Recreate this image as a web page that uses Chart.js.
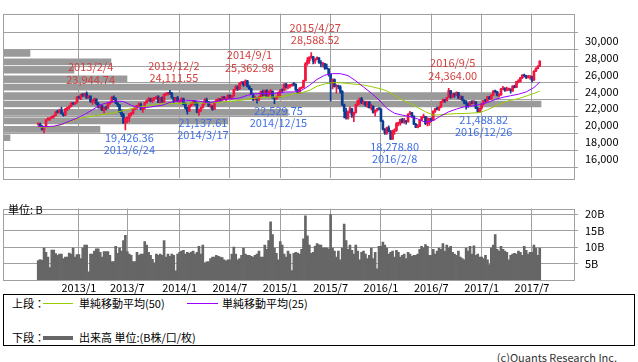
<!DOCTYPE html>
<html>
<head>
<meta charset="utf-8">
<script src="https://cdn.jsdelivr.net/npm/chart.js@4.4.0/dist/chart.umd.min.js"></script>
<style>
body { margin:0; background:#fff; width:638px; height:362px; position:relative; overflow:hidden;
       font-family:"Noto Sans CJK JP", sans-serif; font-size:11px; color:#000; }
canvas { position:absolute; left:0; }
#priceChart { top:0; }
#volChart { top:195px; }
.txt { position:absolute; white-space:nowrap; line-height:13px; }
#legendBox { position:absolute; left:3px; top:294px; width:632px; height:52px; border:1px solid #000; box-sizing:border-box; }
.swatch { position:absolute; }
</style>
</head>
<body>
<canvas id="priceChart" width="638" height="192"></canvas>
<canvas id="volChart" width="638" height="99"></canvas>
<div class="txt" style="left:8px;top:203px;">単位: B</div>
<div id="legendBox"></div>
<div class="txt" style="left:12px;top:297px;">上段：</div>
<div class="swatch" style="left:43px;top:303px;width:30px;height:1px;background:#99cc00;"></div>
<div class="txt" style="left:79px;top:297px;">単純移動平均(50)</div>
<div class="swatch" style="left:187px;top:303px;width:31px;height:1px;background:#9900ff;"></div>
<div class="txt" style="left:222px;top:297px;">単純移動平均(25)</div>
<div class="txt" style="left:12px;top:331px;">下段：</div>
<div class="swatch" style="left:43px;top:336px;width:30px;height:4px;background:#666;"></div>
<div class="txt" style="left:79px;top:331px;">出来高 単位:(B株/口/枚)</div>
<div class="txt" style="right:21px;top:351px;color:#333;">(c)Quants Research Inc.</div>
<script>
// weekly bars, index 0 = week of 2012/8/13, last = week of 2017/7/31
const openP = [20080,20120,19870,19480,19800,20640,20720,20850,21010,21150,21560,21540,21780,21380,21180,21920,22040,22210,22600,22510,
22680,23340,23260,23610,23590,23730,23220,23440,22790,22880,23090,22520,22120,22290,21720,22090,22010,22550,22700,23320,
23080,22610,22390,21570,21220,20260,20810,20850,21280,21370,21970,22200,22280,22500,21860,22040,22630,22920,23110,22860,
23140,23220,23350,22690,23250,22740,23670,23700,23880,23740,23240,22810,23250,22810,22840,23130,22440,22030,21640,22300,
22570,22830,22650,21540,21850,22070,22500,23000,22750,22220,22260,21870,22720,22960,23080,22950,23320,23190,23220,23540,
23230,23460,24220,24530,24330,24950,25110,24740,25240,24590,24300,23670,23060,23080,23020,23300,24000,23550,24080,23440,
23990,24000,23240,23120,23350,23860,24130,24100,24850,24500,24680,24680,24830,24820,24160,23820,24370,24480,25280,27280,
27650,28060,28130,27570,27820,27990,27420,27260,27280,26750,26660,26060,24900,25410,24550,24630,24550,23990,22400,21610,
20830,21500,21920,21180,21510,22450,22860,23150,22630,22720,22390,22750,22060,22230,21460,21750,21920,21900,20450,19520,
19080,19680,19280,18320,19280,19360,20180,20200,20670,20340,20500,20370,21320,21470,21060,20100,19710,19850,20570,20950,
21040,20170,20250,20790,20560,21660,21960,21890,22140,22760,22930,22900,23260,24090,23330,23680,23580,23850,23230,23370,
22950,22640,22530,22340,22720,22560,22750,22010,21570,22000,22500,22930,22880,23350,23120,23570,24030,23960,23550,23560,
24300,24350,24110,24260,24260,24040,24610,24470,25150,25170,25630,25920,25830,25620,25670,25760,25340,26390,26700,26980];
const highP = [20260,20250,19960,19850,20660,20900,20900,21060,21180,21620,21740,21900,22150,21450,22000,22150,22300,22680,22700,22700,
23370,23450,23650,23700,23780,23945,23500,23480,23030,23200,23120,22700,22400,22350,22150,22250,22600,22800,23390,23470,
23260,22700,22450,21800,21400,20900,21000,21400,21500,22000,22250,22300,22650,22600,22100,22700,23000,23300,23200,23200,
23300,23450,23500,23300,23350,23700,23800,23900,24112,23900,23300,23300,23400,23000,23250,23200,22600,22100,22350,22650,
22900,22900,22700,21900,22150,22550,23150,23200,22800,22500,22300,22750,23050,23200,23150,23400,23400,23300,23600,23600,
23500,24250,24700,24650,25000,25200,25150,25363,25300,24700,24350,23700,23400,23250,23450,24050,24150,24150,24200,24050,
24200,24050,23300,23400,23950,24200,24300,24900,24950,24800,24800,24900,25050,24900,24250,24450,24550,25350,27400,28000,
28100,28589,28150,27900,28100,28000,27650,27400,27300,27250,26700,26100,25500,25500,24800,24750,24700,24100,22500,22000,
21700,22150,22000,21550,22500,22950,23200,23300,22900,22800,22800,22800,22500,22300,21800,22000,22050,21950,20600,19600,
19750,19900,19350,19400,19550,20300,20350,20700,20800,20800,20550,21350,21620,21500,21100,20200,20050,20650,21000,21300,
21050,20900,20800,20850,21700,22000,22150,22200,22800,23100,23000,23300,24364,24100,23750,23800,23950,23900,23500,23450,
23000,22900,22600,22800,22900,22900,22800,22100,22050,22600,22950,23050,23400,23400,23600,24100,24150,24000,23700,24350,
24600,24450,24500,24350,24300,24700,24750,25200,25400,25650,26000,26050,25900,25900,25900,25800,26450,26800,27050,27650];
const lowP = [19960,19800,19400,19076,19780,20560,20550,20800,20850,21100,21400,21450,21300,21050,21150,21700,21900,22150,22400,22450,
22600,23100,23000,23380,23400,23150,23180,22700,22450,22600,22400,22000,21900,21700,21400,21800,21950,22450,22650,23000,
22550,22200,21500,21000,20200,19426,20300,20400,21100,21300,21800,21900,22200,21800,21500,21900,22600,22800,22750,22700,
22900,23100,22650,22600,22700,22700,23500,23550,23650,23200,22700,22800,22800,22600,22750,22400,21900,21300,21600,22200,
22400,22350,21450,21138,21600,22000,22450,22650,22200,22000,21750,21850,22650,22800,22800,22900,23000,22900,23100,23150,
23050,23400,24150,24100,24200,24850,24600,24700,24500,24200,23600,22900,22950,22600,22900,23250,23450,23500,23400,23400,
23600,23200,22530,23000,23300,23300,23900,24050,24400,24300,24400,24600,24650,24100,23750,23800,24300,24400,25250,27100,
27300,27900,27250,27300,27750,27300,26900,26900,26600,26650,25800,22836,24300,24500,23800,24300,23800,22300,20865,20700,
20700,21400,20900,20400,21400,22300,22450,22550,22400,22200,22100,22000,21800,21400,21100,21650,21800,20400,19400,18900,
18900,19200,18279,18300,18900,19250,19900,20000,20250,20200,20100,20350,21200,20900,20050,19700,19650,19800,20500,20850,
20050,19900,19950,20400,20550,21500,21800,21700,22100,22700,22700,22850,23250,23200,23250,23300,23500,23100,23000,22900,
22500,21900,22100,22300,22500,22500,21950,21500,21489,21900,22400,22700,22800,23000,23050,23500,23850,23450,23350,23550,
24200,24000,24050,24100,23800,24000,24400,24450,25000,25100,25500,25700,25500,25550,25450,25100,25300,26350,26650,26950];
const closeP = [20116,19880,19482,19802,20629,20734,20840,20999,21136,21551,21546,21769,21385,21159,21913,22030,22191,22605,22506,22667,
23331,23264,23601,23580,23721,23216,23444,22782,22880,23092,22533,22115,22300,21727,22089,22013,22547,22690,23321,23082,
22618,22392,21575,21225,20263,20803,20855,21277,21362,21968,22190,22271,22517,21863,22031,22621,22915,23117,22859,23139,
23218,23340,22698,23249,22744,23660,23696,23881,23743,23245,22813,23244,22817,22846,23133,22450,22035,21636,22299,22568,
22837,22660,21540,21846,22065,22510,23003,22760,22223,22261,21863,22713,22965,23081,22951,23319,23194,23221,23546,23233,
23454,24216,24532,24331,24954,25112,24742,25240,24595,24306,23678,23064,23088,23023,23302,23998,23550,24087,23437,23987,
24002,23249,23116,23349,23857,24136,24103,24850,24507,24679,24682,24833,24823,24164,23823,24375,24486,25275,27272,27653,
28061,28133,27577,27822,27993,27424,27260,27280,26760,26663,26064,24901,25415,24553,24636,24552,23991,22410,21612,20840,
21504,21920,21186,21506,22459,22867,23151,22640,22727,22397,22754,22068,22235,21464,21756,21919,21914,20453,19521,19080,
19683,19289,18320,19286,19364,20176,20199,20671,20346,20498,20370,21316,21467,21067,20109,19719,19852,20577,20947,21042,
20170,20259,20794,20564,21659,21964,21891,22146,22767,22937,22909,23266,24099,23335,23686,23584,23851,23233,23374,22954,
22643,22531,22344,22723,22564,22760,22020,21574,22001,22503,22937,22885,23360,23129,23575,24033,23965,23553,23568,24310,
24358,24111,24267,24262,24042,24615,24476,25156,25174,25639,25924,25830,25626,25670,25765,25341,26389,26706,26979,27563];
// weekly volume, billions of shares
const volumeB = [5.9,6.2,6.0,9.7,8.4,7.0,3.8,9.1,9.1,8.0,7.5,7.9,7.9,6.5,7.0,7.0,8.2,7.9,9.7,7.0,
7.7,7.7,6.5,9.7,10.6,10.6,2.5,7.9,7.9,8.8,9.5,9.5,8.4,7.0,8.6,8.6,8.6,7.5,5.6,5.6,
10.2,8.1,9.7,8.8,12.0,13.6,8.6,7.9,7.5,5.6,5.6,8.4,7.5,7.9,7.9,11.7,10.6,8.4,7.5,6.3,
5.2,7.9,7.5,7.9,7.5,12.0,7.0,7.9,7.2,7.9,7.5,2.8,7.9,8.4,8.8,9.0,7.9,8.4,8.1,8.5,
8.8,7.9,8.4,10.2,7.9,10.6,5.2,5.5,5.6,6.5,7.0,7.0,7.5,7.2,7.0,6.8,6.1,5.8,6.1,6.1,
7.9,10.0,7.9,6.1,6.5,7.5,9.7,7.9,7.5,7.5,7.2,7.0,7.5,7.9,8.8,7.0,7.0,10.6,9.3,12.0,
17.7,13.8,9.7,8.1,6.1,11.7,10.6,7.9,7.0,8.8,7.9,2.9,8.1,8.4,8.2,7.9,9.3,12.5,19.5,13.4,
10.6,8.1,8.4,10.2,11.1,10.7,10.6,9.7,9.8,9.7,9.5,19.9,9.7,8.8,7.0,8.8,6.1,9.7,17.0,12.0,
9.3,10.6,9.0,7.9,10.6,8.8,6.1,8.4,8.8,7.9,6.5,7.5,9.7,6.5,8.4,3.4,10.2,10.2,11.5,10.6,
9.7,7.9,8.4,8.8,7.0,9.0,8.4,7.0,7.5,7.9,6.5,8.4,7.9,7.2,7.5,7.5,7.9,9.3,10.2,9.7,
10.8,10.2,7.5,7.5,9.3,7.9,8.8,9.7,9.3,11.1,8.8,10.6,9.7,10.2,8.4,7.9,7.5,8.8,7.0,6.5,
6.1,9.7,8.8,10.2,7.9,10.4,7.5,7.9,7.0,7.0,6.5,7.5,6.1,4.7,9.7,10.6,13.8,9.3,8.8,10.2,
9.3,8.8,8.4,6.1,7.5,7.9,8.1,7.9,8.8,8.4,7.5,10.2,9.0,7.9,8.4,8.4,10.6,9.7,7.5,9.7];
// moving averages read every 4 weeks (last value = last week)
const maStep = 4;
const ma25 = [19820,19820,19870,20090,20450,20820,21270,21810,22400,22670,22850,22800,22350,22040,22080,22220,22350,22690,22850,22940,
22920,22800,22620,22800,23030,23120,23210,23530,23710,23750,23770,23800,23930,23930,24110,24700,25420,25920,26100,26100,
25870,25240,24520,23800,22980,21990,21400,21180,21000,20730,20320,20550,21090,21580,21900,22170,22260,22440,22670,23030,
23300,23480,23660,23930,24450,25100];
const ma50 = [19730,19760,19820,20050,20370,20730,20910,21040,21210,21360,21490,21720,21950,22130,22260,22400,22510,22530,22580,22600,
22620,22620,22620,22670,22760,22830,22920,23070,23190,23280,23320,23350,23460,23710,23840,24110,24610,24880,25030,25020,
24930,24840,24750,24560,24340,24070,23530,22980,22580,22080,21580,21180,21220,21310,21360,21380,21420,21490,21810,22260,
22670,22940,23140,23440,23750,24040];
// volume by price band (band centre, billions)
const profileBand = [18500,19500,20500,21500,22500,23500,24500,25500,26500,27500,28500];
const profileVol = [7,97,225,285,538,496,284,124,71,108,27];
const priceTicks = [16000,18000,20000,22000,24000,26000,28000,30000];
const volTicks = [5,10,15,20];
const monthWeek = [21,46,73,99,125,151,177,203,229,255];
const monthLabel = ['2013/1','2013/7','2014/1','2014/7','2015/1','2015/7','2016/1','2016/7','2017/1','2017/7'];
// high / low marks
const markWeek = [25,68,107,141,212,45,83,122,182,228];
const markValue = [23944.74,24111.55,25362.98,28588.52,24364.00,19426.36,21137.61,22529.75,18278.80,21488.82];
const markDate = ['2013/2/4','2013/12/2','2014/9/1','2015/4/27','2016/9/5','2013/6/24','2014/3/17','2014/12/15','2016/2/8','2016/12/26'];
const markHigh = [true,true,true,true,true,false,false,false,false,false];

const UP = '#f3143f';
const DOWN = '#0b3c94';
const GRID = '#a0a0a0';
const FONT = { family: '"Noto Sans CJK JP", sans-serif', size: 11 };
const X_MIN = -18.2, X_MAX = 276.7;

const weeks = closeP.map((_, i) => i);
const candleColor = weeks.map(i => closeP[i] >= openP[i] ? UP : DOWN);
const maPoints = arr => arr.map((v, k) => ({ x: Math.min(k * maStep, closeP.length - 1), y: v }));

const frame = {
    id: 'frame',
    afterDraw(chart) {
        const a = chart.chartArea;
        const ctx = chart.ctx;
        ctx.save();
        ctx.strokeStyle = GRID;
        ctx.lineWidth = 1;
        ctx.strokeRect(Math.round(a.left) + 0.5, Math.round(a.top) + 0.5, Math.round(a.right - a.left), Math.round(a.bottom - a.top));
        ctx.restore();
    }
};

const marks = {
    id: 'marks',
    afterDatasetsDraw(chart) {
        const ctx = chart.ctx;
        const x = chart.scales.x, y = chart.scales.y;
        ctx.save();
        ctx.font = '11px "Noto Sans CJK JP"';
        ctx.textAlign = 'center';
        ctx.textBaseline = 'middle';
        markWeek.forEach((w, k) => {
            const px = x.getPixelForValue(w) + 4;
            const py = y.getPixelForValue(markValue[k]);
            const valText = markValue[k].toLocaleString('en-US', { minimumFractionDigits: 2, maximumFractionDigits: 2 });
            if (markHigh[k]) {
                ctx.fillStyle = '#d2403f';
                ctx.fillText(markDate[k], px, py - 25);
                ctx.fillText(valText, px, py - 12.5);
            } else {
                ctx.fillStyle = '#3f6fe8';
                ctx.fillText(valText, px, py + 7.5);
                ctx.fillText(markDate[k], px, py + 19.5);
            }
        });
        ctx.restore();
    }
};

new Chart(document.getElementById('priceChart'), {
    type: 'bar',
    data: {
        datasets: [{
            type: 'line',
            label: '単純移動平均(25)',
            data: maPoints(ma25),
            borderColor: '#9900ff',
            borderWidth: 1,
            pointRadius: 0,
            xAxisID: 'x',
            order: 0
        }, {
            type: 'line',
            label: '単純移動平均(50)',
            data: maPoints(ma50),
            borderColor: '#99cc00',
            borderWidth: 1,
            pointRadius: 0,
            xAxisID: 'x',
            order: 0
        }, {
            label: 'body',
            data: weeks.map(i => ({ x: i, y: [openP[i], closeP[i]] })),
            backgroundColor: candleColor,
            barThickness: 2,
            minBarLength: 1,
            grouped: false,
            xAxisID: 'x',
            order: 1
        }, {
            label: 'wick',
            data: weeks.map(i => ({ x: i, y: [lowP[i], highP[i]] })),
            backgroundColor: candleColor,
            barThickness: 1,
            grouped: false,
            xAxisID: 'x',
            order: 2
        }, {
            label: 'profile',
            indexAxis: 'y',
            data: profileBand.map((b, k) => ({ x: profileVol[k], y: b })),
            backgroundColor: '#9a9a9a',
            barThickness: 6,
            grouped: false,
            xAxisID: 'xp',
            yAxisID: 'y',
            order: 5
        }]
    },
    options: {
        responsive: false,
        animation: false,
        events: [],
        layout: { padding: { left: 3, top: 1, right: 0, bottom: 1.5 } },
        plugins: { legend: { display: false }, tooltip: { enabled: false } },
        scales: {
            x: {
                type: 'linear',
                min: X_MIN,
                max: X_MAX,
                offset: false,
                afterBuildTicks: s => { s.ticks = monthWeek.map(v => ({ value: v })); },
                afterFit: s => { s.height = 0; },
                ticks: { display: false },
                grid: { color: c => c.tick && c.tick.value === 46 ? 'rgba(0,0,0,0)' : GRID, drawTicks: false, offset: false },
                border: { display: false }
            },
            xp: { type: 'linear', display: false, min: 0, max: 571, offset: false },
            y: {
                type: 'linear',
                position: 'right',
                min: 14900,
                max: 32000,
                afterBuildTicks: s => { s.ticks = priceTicks.map(v => ({ value: v })); },
                afterFit: s => { s.width = 64; },
                ticks: { color: '#000', font: FONT, padding: 7, callback: v => v.toLocaleString('en-US') },
                grid: { color: GRID, tickLength: 4 },
                border: { display: false }
            }
        }
    },
    plugins: [frame, marks]
});

new Chart(document.getElementById('volChart'), {
    type: 'bar',
    data: {
        datasets: [{
            label: '出来高',
            data: weeks.map(i => ({ x: i, y: volumeB[i] })),
            backgroundColor: '#666666',
            barThickness: 2,
            grouped: false
        }]
    },
    options: {
        responsive: false,
        animation: false,
        events: [],
        layout: { padding: { left: 3, top: 6, right: 0, bottom: 0 } },
        plugins: { legend: { display: false }, tooltip: { enabled: false } },
        scales: {
            x: {
                type: 'linear',
                min: X_MIN,
                max: X_MAX,
                offset: false,
                afterBuildTicks: s => { s.ticks = monthWeek.map(v => ({ value: v })); },
                afterFit: s => { s.height = 14; },
                ticks: { color: '#000', font: FONT, padding: 1, maxRotation: 0, autoSkip: false,
                         callback: v => monthLabel[monthWeek.indexOf(v)] },
                grid: { color: GRID, drawTicks: false, offset: false },
                border: { display: false }
            },
            y: {
                type: 'linear',
                position: 'right',
                min: 0,
                max: 21.7,
                afterBuildTicks: s => { s.ticks = volTicks.map(v => ({ value: v })); },
                afterFit: s => { s.width = 64; },
                ticks: { color: '#000', font: FONT, padding: 7, callback: v => v + 'B' },
                grid: { color: GRID, tickLength: 4 },
                border: { display: false }
            }
        }
    },
    plugins: [frame]
});
</script>
</body>
</html>
